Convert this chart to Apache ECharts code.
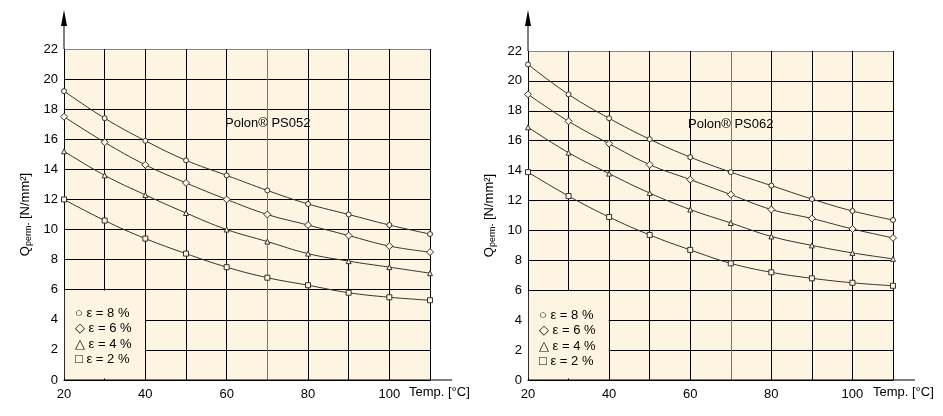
<!DOCTYPE html><html><head><meta charset="utf-8"><script src="https://cdn.jsdelivr.net/npm/echarts@6/dist/echarts.min.js"></script></head><body style="margin:0;background:#fff"><div id="c" style="width:943px;height:416px"></div><script>
const temps=[20,30,40,50,60,70,80,90,100,110];
const xTicks=[20,40,60,80,100];
const legendLabels=['ε = 8 %','ε = 6 %','ε = 4 %','ε = 2 %'];
const A8=[19.2,17.4,15.9,14.6,13.6,12.6,11.7,11.0,10.3,9.7];
const A6=[17.5,15.8,14.3,13.1,12.0,11.0,10.3,9.6,8.9,8.5];
const A4=[15.2,13.6,12.3,11.1,10.0,9.2,8.4,7.9,7.5,7.1];
const A2=[12.0,10.6,9.4,8.4,7.5,6.8,6.3,5.8,5.5,5.3];
const B8=[21.1,19.1,17.5,16.1,14.9,13.9,13.0,12.1,11.3,10.7];
const B6=[19.1,17.3,15.8,14.4,13.4,12.4,11.4,10.8,10.1,9.5];
const B4=[16.9,15.2,13.8,12.5,11.4,10.5,9.6,9.0,8.5,8.1];
const B2=[13.9,12.3,10.9,9.7,8.7,7.8,7.2,6.8,6.5,6.3];
const font='Liberation Sans';
const symbols=['circle','diamond','triangle','rect'];
const sizes=[5,7,5,5];
const grids=[{left:64,width:366,top:49,height:331,backgroundColor:'#fdf5e2',show:true,borderWidth:0},
             {left:528,width:365,top:51,height:329,backgroundColor:'#fdf5e2',show:true,borderWidth:0}];
const xColors=['#000','#000','#000','#000','#000','#777','#000','#000','#000','#000'];
const yColors=Array(11).fill('#000').concat(['#888']);
function xa(i){return {type:'value',gridIndex:i,min:20,max:110,interval:10,
 axisLine:{lineStyle:{color:'#000'}},axisTick:{show:false},
 splitLine:{show:true,lineStyle:{color:xColors,width:1}},
 axisLabel:{color:'#000',fontFamily:font,fontSize:13,formatter:v=>xTicks.includes(v)?String(v):''}};}
function ya(i){return {type:'value',gridIndex:i,min:0,max:22,interval:2,
 axisLine:{show:true,lineStyle:{color:'#000'}},axisTick:{show:false},
 splitLine:{show:true,lineStyle:{color:yColors,width:1}},
 axisLabel:{color:'#000',fontFamily:font,fontSize:13,margin:6},
 name:'{a|Q}{b|perm-} [N/mm²]',nameLocation:'middle',nameGap:32,nameRotate:90,
 nameTextStyle:{fontFamily:font,fontSize:13,color:'#000',rich:{a:{fontSize:13,fontFamily:font},b:{fontSize:9,fontFamily:font,padding:[0,0,-6,0]}}}};}
function ser(data,k,i){
 const s={type:'line',xAxisIndex:i,yAxisIndex:i,smooth:0.4,data:temps.map((t,j)=>[t,data[j]]),
 symbol:symbols[k],symbolSize:sizes[k],showSymbol:true,
 itemStyle:{color:'#fdf5e2',borderColor:'#333',borderWidth:1},
 lineStyle:{color:'#333',width:1},z:5};
 if(k===0){s.markArea={silent:true,itemStyle:{color:'#fdf5e2'},data:[[{coord:[20.2,0.1]},{coord:[39.9,5.95]}]],z:3};}
 return s;}
const series=[];
[A8,A6,A4,A2].forEach((d,k)=>series.push(ser(d,k,0)));
[B8,B6,B4,B2].forEach((d,k)=>series.push(ser(d,k,1)));
function txt(x,y,t,size){return {type:'text',left:x,top:y,style:{text:t,font:(size||13)+'px "'+font+'"',fill:'#000'},z:20};}
const graphic=[];
[[64,49,452],[528,51,915]].forEach(g=>{
 graphic.push({type:'line',shape:{x1:g[0],y1:380,x2:g[2],y2:380},style:{stroke:'#000',lineWidth:1},z:10});
 graphic.push({type:'line',shape:{x1:g[0],y1:g[1],x2:g[0],y2:20},style:{stroke:'#000',lineWidth:1},z:10});
 graphic.push({type:'polygon',shape:{points:[[g[0]-3,26],[g[0]+3,26],[g[0],10]]},style:{fill:'#000'},z:10});
});
graphic.push(txt(225,117,'Polon® PS052',13),txt(688,118,'Polon® PS062',13));
graphic.push(txt(409,386,'Temp. [°C]',13),txt(873,386,'Temp. [°C]',13));
const legSym=['○','◇','△','□'];
[[75,307],[539,309]].forEach(p=>legendLabels.forEach((l,k)=>graphic.push(txt(p[0],p[1]+k*15.3,legSym[k]+' '+l,13))));
const chart=echarts.init(document.getElementById('c'));
chart.setOption({animation:false,grid:grids,xAxis:[xa(0),xa(1)],yAxis:[ya(0),ya(1)],series,graphic});
</script></body></html>
